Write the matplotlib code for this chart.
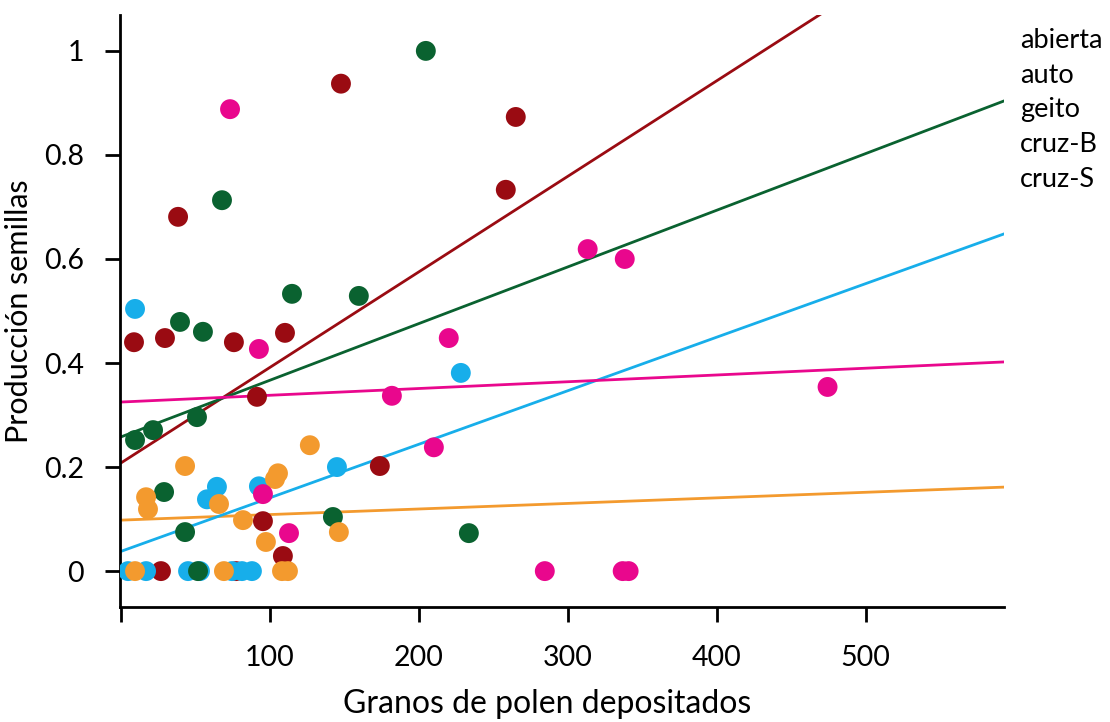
import matplotlib
matplotlib.use("Agg")
import matplotlib.pyplot as plt
import numpy as np

plt.rcParams['font.family'] = ['Lato', 'DejaVu Sans']

# ---- data ----
groups = ["abierta", "auto", "geito", "cruz-B", "cruz-S"]

abierta_x = [8.7, 29.5, 38.3, 75.8, 110.1, 91.3, 147.7, 258.4, 265.1, 173.8, 95.3, 108.7, 26.8, 77.2]
abierta_y = [0.440, 0.448, 0.681, 0.440, 0.458, 0.335, 0.937, 0.733, 0.873, 0.202, 0.096, 0.029, 0.0, 0.0]

auto_x = [43.0, 16.8, 18.1, 65.8, 81.9, 97.3, 103.4, 105.4, 126.8, 146.3, 9.4, 69.1, 108.1, 112.1]
auto_y = [0.202, 0.142, 0.119, 0.129, 0.098, 0.056, 0.177, 0.188, 0.242, 0.075, 0.0, 0.0, 0.0, 0.0]

geito_x = [9.4, 21.5, 51.0, 28.9, 43.0, 51.7, 39.6, 55.0, 67.8, 114.8, 159.7, 204.7, 142.3, 233.6]
geito_y = [0.252, 0.271, 0.296, 0.152, 0.075, 0.0, 0.479, 0.460, 0.713, 0.533, 0.529, 1.0, 0.104, 0.073]

cruzB_x = [9.4, 4.7, 16.8, 45.0, 53.0, 74.5, 81.2, 87.9, 57.7, 64.4, 92.6, 145.0, 228.2]
cruzB_y = [0.504, 0.0, 0.0, 0.0, 0.0, 0.0, 0.0, 0.0, 0.138, 0.162, 0.163, 0.200, 0.381]

cruzS_x = [73.2, 92.6, 95.3, 112.8, 181.9, 210.1, 220.1, 313.4, 338.3, 474.5, 284.6, 336.9, 340.9]
cruzS_y = [0.888, 0.427, 0.148, 0.073, 0.337, 0.238, 0.448, 0.619, 0.600, 0.354, 0.0, 0.0, 0.0]

# fitted lines: intercept and slope per group
intercepts = [0.208, 0.098, 0.258, 0.038, 0.325]
slopes = [0.001836, 0.000107, 0.001089, 0.001029, 0.000130]

colors = ["#9A0B12", "#F39A2E", "#0A6230", "#17AEEA", "#E9078D"]

xs = [abierta_x, auto_x, geito_x, cruzB_x, cruzS_x]
ys = [abierta_y, auto_y, geito_y, cruzB_y, cruzS_y]

x_ticks = [0, 100, 200, 300, 400, 500]
x_ticklabels = ["", "100", "200", "300", "400", "500"]
y_ticks = [0, 0.2, 0.4, 0.6, 0.8, 1]
y_ticklabels = ["0", "0.2", "0.4", "0.6", "0.8", "1"]

# ---- figure ----
fig = plt.figure(figsize=(11.10, 7.22), dpi=100)
ax = fig.add_axes([120/1110, 1 - 607/722, (1004 - 120)/1110, (607 - 15)/722])

xmin, xmax = -0.7, 593
ymin, ymax = -0.069, 1.069

# draw order: abierta, cruz-B, geito, auto, cruz-S
order = [0, 3, 2, 1, 4]
for i in order:
    ax.scatter(xs[i], ys[i], s=205, color=colors[i], edgecolors='none', zorder=3)

handles = []
for i in range(len(groups)):
    lx = np.array([0, xmax])
    ly = intercepts[i] + slopes[i] * lx
    h, = ax.plot(lx, ly, color=colors[i], lw=2.0, zorder=2, label=groups[i])
    handles.append(h)

ax.set_xlim(xmin, xmax)
ax.set_ylim(ymin, ymax)

ax.set_xticks(x_ticks)
ax.set_xticklabels(x_ticklabels)
ax.set_yticks(y_ticks)
ax.set_yticklabels(y_ticklabels)

for s in ["top", "right"]:
    ax.spines[s].set_visible(False)
for s in ["left", "bottom"]:
    ax.spines[s].set_linewidth(2.0)
    ax.spines[s].set_color("black")

ax.tick_params(axis='both', direction='out', length=11, width=2.0, labelsize=20.5, color='black')
ax.tick_params(axis='x', pad=16)
ax.tick_params(axis='y', pad=15)

ax.set_xlabel("Granos de polen depositados", fontsize=23)
ax.xaxis.set_label_coords(0.483, -0.138)
ax.set_ylabel("Producción semillas", fontsize=22, labelpad=8)

leg = ax.legend(handles, groups, loc='upper left', bbox_to_anchor=(1020/1110, 1 - 28/722),
                bbox_transform=fig.transFigure, frameon=False, handlelength=0,
                handletextpad=0, labelspacing=0.36, fontsize=19.5, borderaxespad=0,
                borderpad=0)
for h in leg.legend_handles:
    h.set_visible(False)

fig.savefig("out.png", dpi=100)
